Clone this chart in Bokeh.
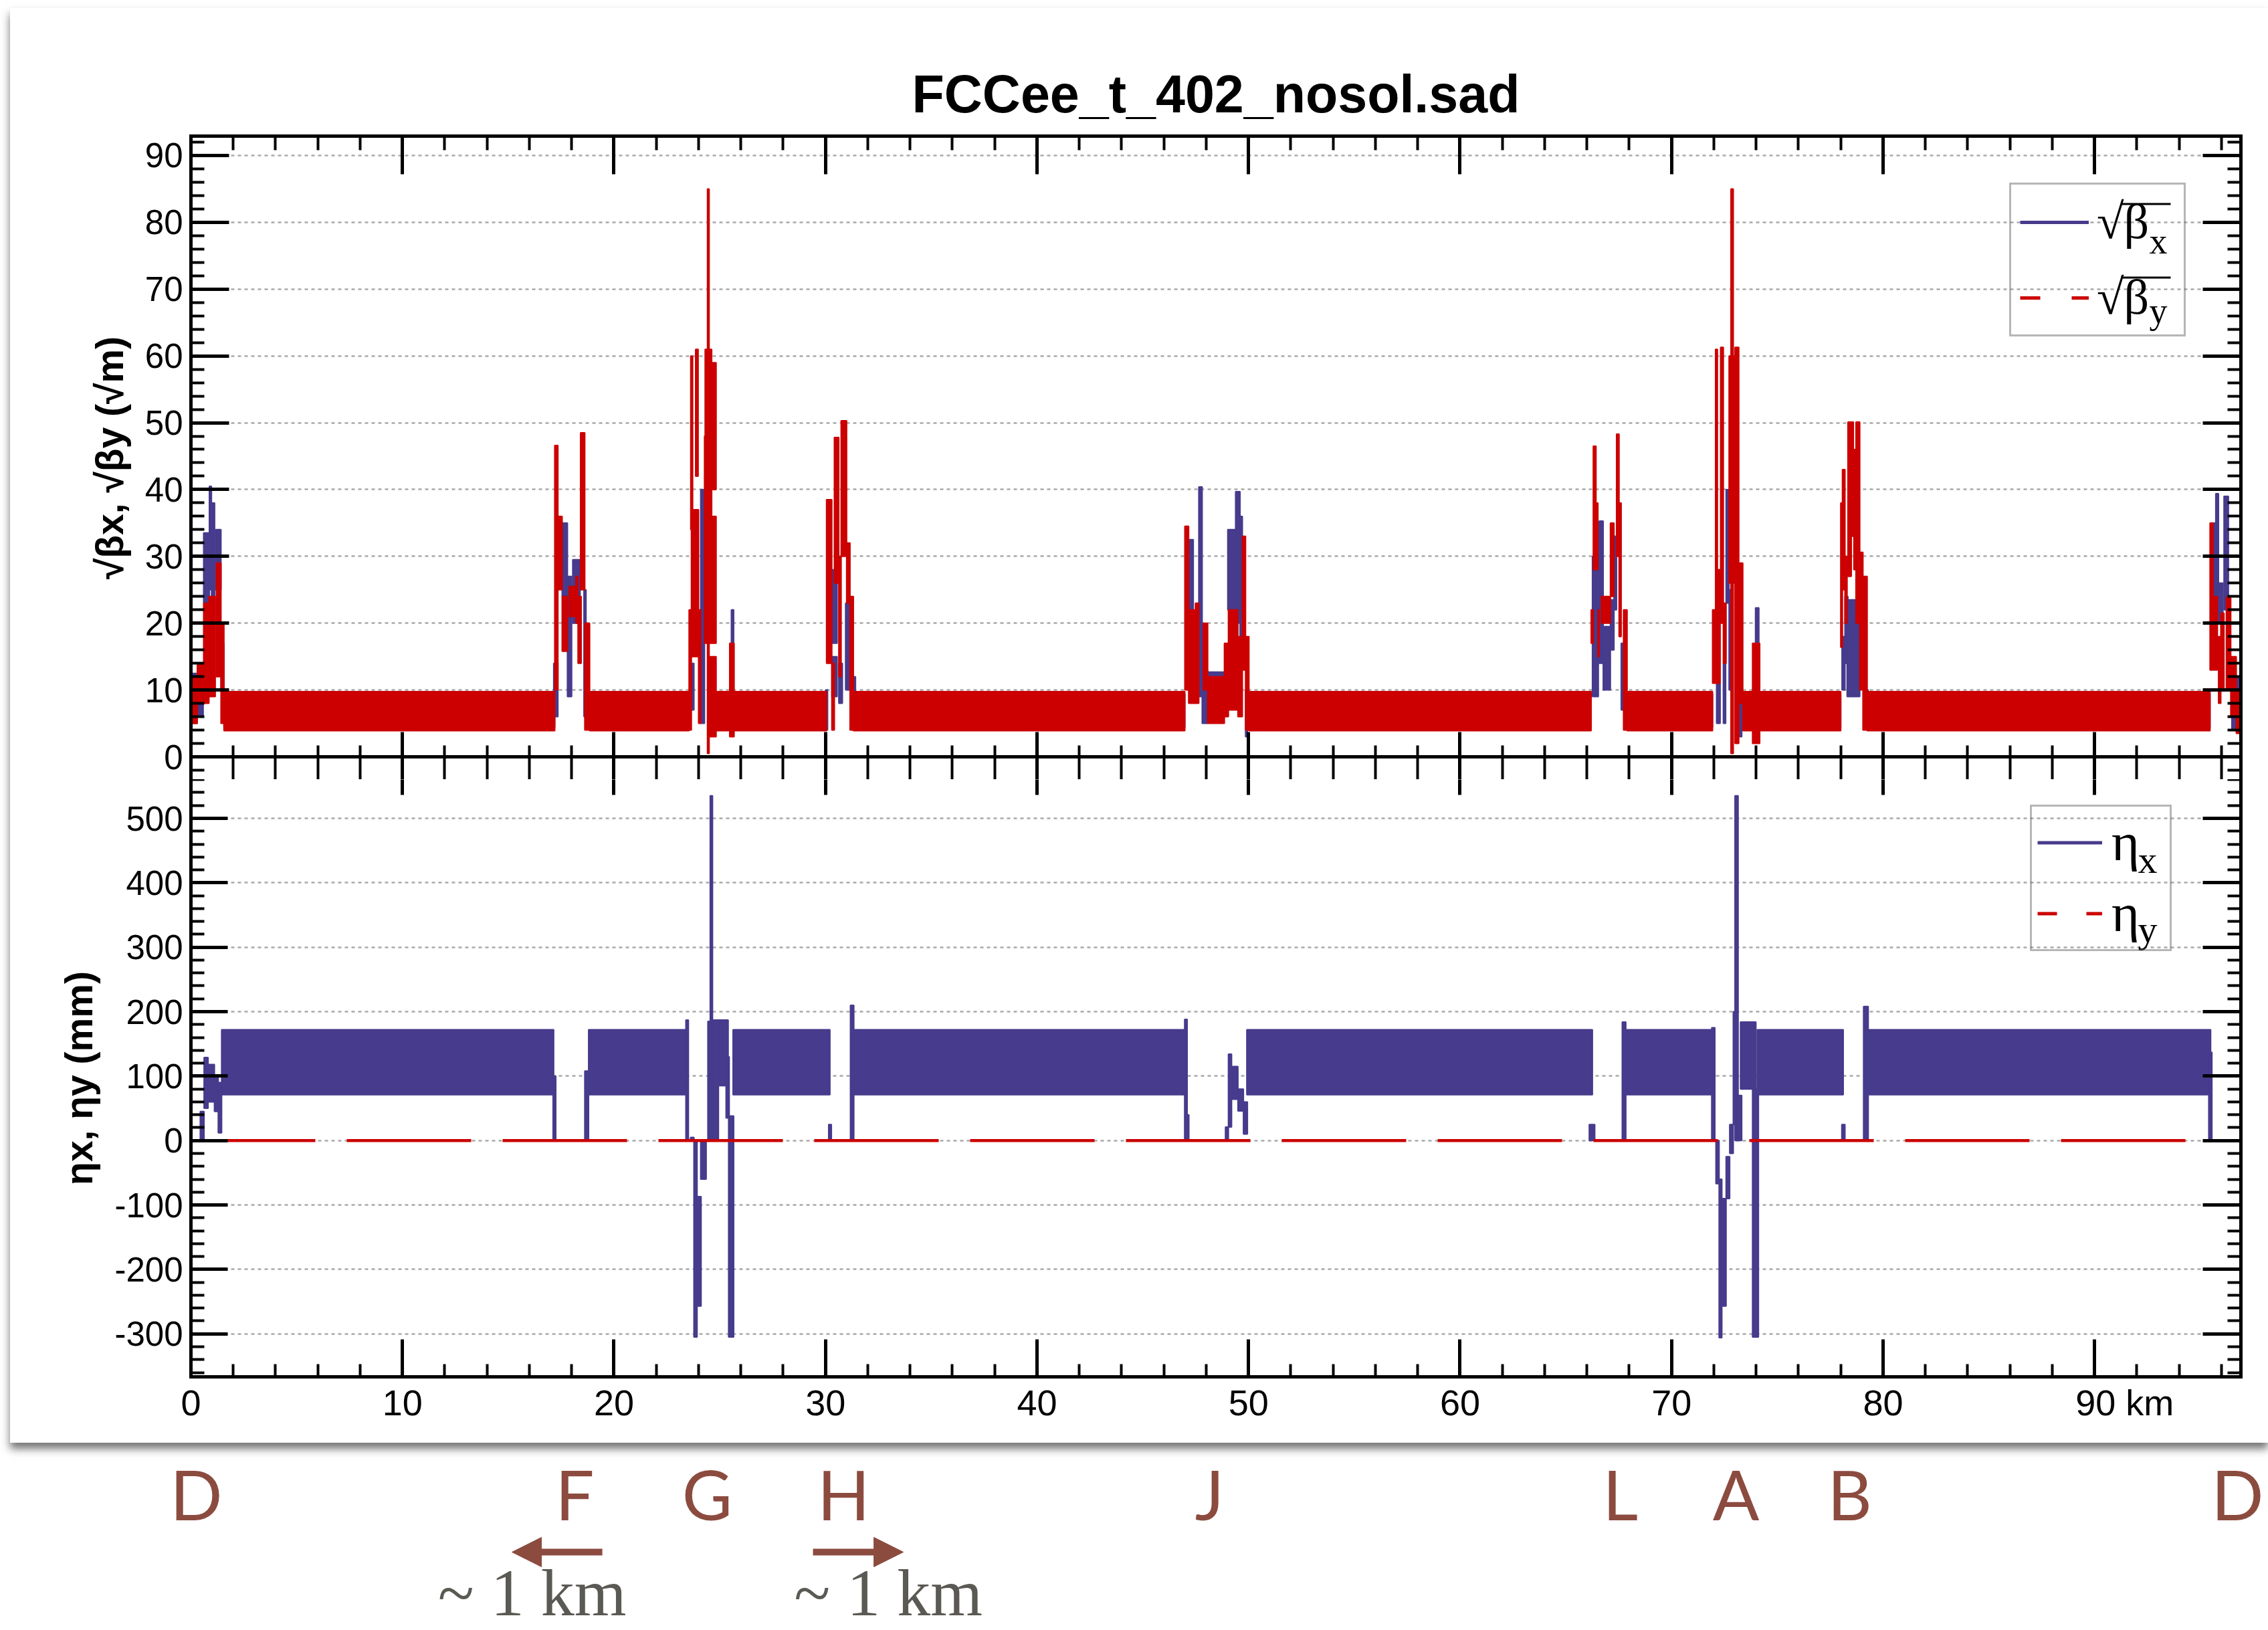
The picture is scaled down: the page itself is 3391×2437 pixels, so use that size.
import math
from bokeh.plotting import figure
from bokeh.models import (Range1d, LinearAxis, SingleIntervalTicker, Legend, LegendItem,
                          Label, BoxAnnotation, Arrow, NormalHead, Spacer, Span,
                          CustomJSTickFormatter)
from bokeh.layouts import column, row
from bokeh.embed import file_html
from bokeh.resources import INLINE
from bokeh.core.properties import value

# ---------------- data ----------------
S_MAX = 96.92          # ring length shown on the s axis [km]
UP_MAX = 92.9          # top of sqrt(beta) panel [sqrt(m)]
LO_MIN, LO_MAX = -366.7, 595.5   # eta panel range [mm]

# arc sections (dense FODO oscillation -> envelope band)
BETA_ARC_START = [1.56, 18.85, 24.83, 25.68, 31.32, 50.02, 67.90, 73.37, 74.17, 79.25]
BETA_ARC_END   = [17.20, 23.55, 25.47, 30.05, 46.99, 66.20, 71.94, 73.83, 78.00, 95.46]
BY_ARC_LO, BY_ARC_HI = 3.9, 9.75
BX_ARC_LO, BX_ARC_HI = 4.4, 9.4

ETA_ARC_START = [1.45, 18.80, 25.63, 31.32, 49.92, 67.79, 74.05, 79.25]
ETA_ARC_END   = [17.15, 23.46, 30.21, 47.07, 66.26, 71.96, 78.12, 95.49]
EX_ARC_LO, EX_ARC_HI = 71.0, 172.0

# insertion regions: (s_from, s_to, min, max) envelopes of sqrt(beta_x)
BX_S0 = [0.00, 0.30, 0.60, 0.87, 0.97, 1.17, 1.42,
         17.15, 17.55, 17.80, 18.05, 18.58,
         23.62, 24.10, 24.55, 25.55,
         30.00, 30.30, 30.30, 30.63, 30.95, 31.32,
         47.17, 47.65, 47.81, 48.07, 49.02, 49.39, 49.60, 49.86,
         66.26, 66.58, 66.77, 67.11, 67.28, 67.62,
         72.13, 72.45, 72.58, 72.72, 73.18, 73.97,
         78.06, 78.20, 78.30, 79.19,
         95.60, 95.73, 95.86, 96.12, 96.33, 96.49]
BX_S1 = [0.30, 0.58, 0.87, 0.97, 1.12, 1.42, 1.56,
         17.35, 17.80, 18.00, 18.40, 18.68,
         23.78, 24.28, 24.80, 25.66,
         30.10, 30.55, 30.55, 30.80, 31.16, 31.42,
         47.39, 47.81, 48.07, 48.86, 49.39, 49.60, 49.71, 49.95,
         66.54, 66.77, 67.11, 67.28, 67.40, 67.75,
         72.30, 72.56, 72.72, 72.81, 73.32, 74.13,
         78.20, 78.34, 78.90, 79.30,
         95.73, 95.86, 96.07, 96.33, 96.49, 96.92]
BX_LO = [5, 6, 23, 25, 24, 25, 10,
         6, 24, 9, 20, 6,
         7, 5, 6, 16,
         4, 17, 9, 8, 10, 8,
         22, 9, 5, 7, 22, 20, 18, 3,
         9, 14, 10, 16, 22, 7,
         5, 5, 23, 10, 3, 17,
         10, 14, 9, 6,
         16, 24, 20, 22, 10, 4]
BX_HI = [12.5, 11, 33.5, 40.5, 38, 34, 17,
         14, 35, 27, 29.5, 25,
         14, 40, 14, 22,
         10, 28, 15, 14, 23, 12,
         32.5, 40.4, 13, 12.7, 34, 39.7, 36, 10,
         30, 35.3, 19.5, 23.5, 33, 17,
         11, 14, 40, 25, 8, 22.3,
         18, 24, 23.5, 10,
         35, 39.4, 26, 39, 15, 12]

# insertion regions: envelopes of sqrt(beta_y)
BY_S0 = [0.00, 0.30, 0.60, 0.85, 1.20, 1.42,
         17.20, 17.35, 17.55, 17.88, 18.20, 18.30, 18.42, 18.62,
         23.55, 23.63, 23.66, 23.86, 24.00, 24.28, 24.31, 24.42, 24.52, 24.60, 24.52, 25.47,
         30.05, 30.30, 30.42, 30.63, 30.74, 31.00, 31.16,
         46.99, 47.17, 47.49, 47.86, 48.07, 48.86, 49.05, 49.50, 49.71, 49.86,
         66.20, 66.30, 66.43, 66.52, 66.68, 67.11, 67.40, 67.52, 67.73,
         71.94, 72.08, 72.08, 72.32, 72.45, 72.72, 72.81, 72.92, 73.00, 73.21, 73.83,
         78.00, 78.08, 78.20, 78.34, 78.50, 78.62, 78.72, 78.90, 79.05,
         95.46, 95.63, 95.86, 95.97, 96.23, 96.44, 96.70]
BY_S1 = [0.30, 0.60, 0.85, 1.15, 1.42, 1.56,
         17.35, 17.55, 17.80, 18.20, 18.30, 18.45, 18.62, 18.85,
         23.66, 23.72, 24.00, 23.98, 24.10, 24.40, 24.62, 24.50, 24.83, 24.83, 24.83, 25.68,
         30.30, 30.42, 30.63, 30.74, 31.00, 31.16, 31.32,
         47.17, 47.49, 47.65, 48.07, 48.86, 49.05, 49.50, 49.71, 49.86, 50.02,
         66.30, 66.43, 66.52, 66.58, 67.11, 67.28, 67.52, 67.62, 67.90,
         72.08, 72.17, 72.30, 72.45, 72.58, 72.81, 72.92, 73.00, 73.18, 73.37, 74.17,
         78.08, 78.20, 78.30, 78.50, 78.60, 78.72, 78.90, 79.05, 79.25,
         95.60, 95.81, 95.97, 96.12, 96.44, 96.70, 96.92]
BY_LO = [5, 8, 8, 9, 12, 5,
         10, 25, 15.8, 21, 20, 14, 25, 4,
         4, 34, 15, 42, 5, 17, 36, 0.5, 17, 40, 3, 3,
         14, 4, 26, 12, 30, 23, 4,
         10, 8, 8, 10, 5, 6, 7, 6, 13, 4,
         17, 28, 28, 15, 20, 24, 30, 18, 4,
         11, 28, 11, 20, 14, 26, 0.5, 26, 2, 8, 2,
         16.4, 25, 20, 27, 33, 28, 20, 10, 4,
         13, 13, 8, 10, 10, 6, 3.5]
BY_HI = [12, 14, 23, 24, 29, 20,
         46.6, 36, 24, 25.5, 27, 24, 48.5, 20,
         22, 60, 37, 61, 22, 48, 61, 85, 36, 59, 15, 17,
         38.5, 14, 47.8, 30, 50.3, 32, 24,
         34.5, 22, 23, 20, 12, 17, 22, 18, 33, 18,
         22, 46.5, 38, 22, 24, 35, 48.3, 38, 22,
         22, 61, 28, 61.3, 23, 60, 85, 60, 61.3, 29, 17,
         38, 43, 30, 50.1, 50.1, 46, 50.1, 30.6, 27,
         35, 24, 18, 21.5, 23.9, 15, 10]

# insertion regions: envelopes of eta_x [mm]
EX_S0 = [0.44, 0.62, 0.81, 1.11, 1.29,
         17.12, 18.62,
         23.40, 23.62, 23.78, 23.93, 24.10, 24.44, 24.55, 24.66, 24.94, 25.30, 25.42,
         30.15, 31.18,
         46.98, 47.05, 48.91, 49.05, 49.20, 49.50, 49.76,
         66.11, 67.67,
         71.90, 72.10, 72.25, 72.36, 72.58, 72.75, 72.92, 73.00, 73.15, 73.26, 73.83,
         78.05, 79.08,
         95.40]
EX_S1 = [0.62, 0.81, 1.11, 1.29, 1.45,
         17.25, 18.80,
         23.52, 23.78, 23.93, 24.12, 24.36, 24.57, 24.66, 24.94, 25.40, 25.45, 25.66,
         30.28, 31.34,
         47.10, 47.18, 49.05, 49.20, 49.50, 49.76, 49.95,
         66.37, 67.84,
         72.05, 72.25, 72.38, 72.58, 72.75, 72.92, 73.04, 73.15, 73.32, 73.99, 74.11,
         78.20, 79.30,
         95.55]
EX_LO = [0, 50, 60, 45, 12,
         0, 0,
         0, 0, -305, -257, -60, 0, 0, 0, 85, 35, -305,
         0, 0,
         0, 0, 0, 21, 64, 46, 10,
         0, 0,
         0, -67, -306, -257, -90, -20, 25, 0, 0, 80, -305,
         0, 0,
         0]
EX_HI = [45, 129, 118, 100, 90,
         100, 108,
         187, 5, 0, -87, 0, 185, 535, 187, 187, 130, 38,
         25, 210,
         188, 40, 21, 134, 115, 80, 60,
         25, 184,
         175, 0, -60, -90, -25, 25, 200, 535, 70, 184, 80,
         25, 208,
         137]

# eta_y is zero everywhere
EY_S = [0.0, S_MAX]
EY_V = [0.0, 0.0]

# region names along the ring
LETTERS = ["D", "F", "G", "H", "J", "L", "A", "B", "D"]
LETTER_S = [0.25, 18.15, 24.41, 30.86, 48.16, 67.58, 73.05, 78.42, 96.76]
ARROW_TAIL = [19.45, 29.41]
ARROW_TIP = [15.18, 33.68]
NOTE_S = [16.13, 32.97]
NOTE_TEXT = ["~ 1 km", "~ 1 km"]

# ---------------- styling / layout ----------------
BLUE = "#463b8c"
RED = "#cc0000"
BROWN = "#8c4b3f"
GREY_TXT = "#5b5953"
BEIGE = "#ebe7df"
SANS = "Liberation Sans"
SERIF = "Liberation Serif"

PAGE_W, PAGE_H = 3391, 2437
PANEL_X, PANEL_Y, PANEL_BOT = 15, 12, 2157
FRAME_L, FRAME_W = 285, 3065
UP_TOP, UP_BOT = 203, 1131      # sqrt(beta) panel: 92.9 .. 0
LO_TOP, LO_BOT = 1131, 2058     # eta panel: 595.5 .. -366.7
EXT = 34                        # the upper canvas reaches a little below its zero line
UP_PX = (UP_BOT - UP_TOP) / UP_MAX
LO_PX = (LO_BOT - LO_TOP) / (LO_MAX - LO_MIN)


def xd(px):
    return (px - FRAME_L) / (FRAME_W / S_MAX)


def up_y(py):
    return (UP_BOT - py) / UP_PX


def lo_y(py):
    return (LO_BOT - py) / LO_PX + LO_MIN


BLANK = CustomJSTickFormatter(code="return ''")


def style_axis(ax, labels, maj_in, min_in, line=True, size="51px", standoff=12):
    ax.major_tick_in = maj_in
    ax.major_tick_out = 0
    ax.minor_tick_in = min_in
    ax.minor_tick_out = 0
    ax.major_tick_line_width = 5
    ax.minor_tick_line_width = 4
    ax.major_tick_line_color = "black"
    ax.minor_tick_line_color = "black" if min_in > 0 else None
    if line:
        ax.axis_line_color = "black"
        ax.axis_line_width = 5
        ax.axis_line_cap = "square"
    else:
        ax.axis_line_color = None
    if labels:
        ax.major_label_text_font = SANS
        ax.major_label_text_font_size = size
        ax.major_label_text_color = "black"
        ax.major_label_standoff = standoff
    else:
        ax.formatter = BLANK
        ax.major_label_text_font_size = "1px"
        ax.major_label_standoff = 0


def style_fig(p):
    p.background_fill_color = "white"
    p.border_fill_color = "white"
    p.outline_line_color = None
    for g in p.xgrid:
        g.visible = False
    for g in p.ygrid:
        g.grid_line_color = "#a9a9a9"
        g.grid_line_dash = "5 5"
        g.grid_line_width = 2.5


def style_ylabel(ax, text):
    ax.axis_label = text
    ax.axis_label_text_font = SANS
    ax.axis_label_text_font_style = "bold"
    ax.axis_label_text_font_size = "57px"
    ax.axis_label_text_color = "black"
    ax.axis_label_standoff = 18


def subscript(p, text, px, y, size):
    p.add_layout(Label(x=xd(px), y=y, text=text, text_font=SERIF, text_font_size=size,
                       text_baseline="middle", text_align="left", text_color="black"))


NAN = float("nan")
up_w = PAGE_W - PANEL_X
b_left = FRAME_L - PANEL_X
b_right = up_w - b_left - FRAME_W

# ---------------- top panel: sqrt(beta) ----------------
fig_up = figure(width=up_w, height=UP_BOT + EXT - PANEL_Y, x_range=Range1d(0, S_MAX),
                y_range=Range1d(-EXT / UP_PX, UP_MAX), x_axis_location=None,
                y_axis_location="left", output_backend="svg", toolbar_location=None,
                min_border_left=b_left, min_border_right=b_right,
                min_border_top=UP_TOP - PANEL_Y, min_border_bottom=0)
style_fig(fig_up)
fig_up.title.text = "FCCee_t_402_nosol.sad"
fig_up.title.align = "center"
fig_up.title.text_font = SANS
fig_up.title.text_font_style = "bold"
fig_up.title.text_font_size = "79px"
fig_up.title.text_color = "black"
fig_up.title.standoff = 38

yt_up = SingleIntervalTicker(interval=10, num_minor_ticks=5)
xt = SingleIntervalTicker(interval=10, num_minor_ticks=5)
fig_up.yaxis[0].ticker = yt_up
style_axis(fig_up.yaxis[0], True, 57, 20)
style_ylabel(fig_up.yaxis[0], "√βx, √βy (√m)")
ax = LinearAxis(ticker=yt_up); style_axis(ax, False, 57, 20); fig_up.add_layout(ax, "right")
ax = LinearAxis(ticker=xt); style_axis(ax, False, 57, 21); fig_up.add_layout(ax, "above")
ax = LinearAxis(ticker=xt); style_axis(ax, False, 37 + EXT, 17 + EXT, line=False)
fig_up.add_layout(ax, "below")
for g in fig_up.ygrid:
    g.ticker = yt_up

nb = len(BETA_ARC_START)
fig_up.quad(left=BETA_ARC_START, right=BETA_ARC_END, bottom=[BX_ARC_LO] * nb, top=[BX_ARC_HI] * nb,
            fill_color=BLUE, line_color=BLUE, line_width=2)
fig_up.quad(left=BX_S0, right=BX_S1, bottom=BX_LO, top=BX_HI,
            fill_color=BLUE, line_color=BLUE, line_width=2)
fig_up.quad(left=BETA_ARC_START, right=BETA_ARC_END, bottom=[BY_ARC_LO] * nb, top=[BY_ARC_HI] * nb,
            fill_color=RED, line_color=RED, line_width=2)
fig_up.quad(left=BY_S0, right=BY_S1, bottom=BY_LO, top=BY_HI,
            fill_color=RED, line_color=RED, line_width=2)
# frame line shared by both panels
fig_up.add_layout(Span(location=0, dimension="width", line_color="black", line_width=5))

r_bx = fig_up.line(x=[NAN], y=[NAN], line_color=BLUE, line_width=5)
r_by = fig_up.line(x=[NAN], y=[NAN], line_color=RED, line_width=5, line_dash="30 47")
leg_up = Legend(items=[LegendItem(label="√β", renderers=[r_bx]),
                       LegendItem(label="√β", renderers=[r_by])],
                location=(3004 - FRAME_L, UP_BOT + EXT - 503), margin=0, padding=13, spacing=28,
                glyph_width=103, glyph_height=82, label_height=82, label_width=117,
                label_standoff=12, border_line_color="#6e6e6e", border_line_width=3,
                background_fill_alpha=0.0,
                label_text_font=SERIF, label_text_font_size="74px", label_text_color="black")
fig_up.add_layout(leg_up)
subscript(fig_up, "x", 3213, up_y(360), "54px")
subscript(fig_up, "y", 3213, up_y(464), "54px")
for top_py in (303, 413):
    fig_up.add_layout(BoxAnnotation(left=xd(3171), right=xd(3245), top=up_y(top_py),
                                    bottom=up_y(top_py + 3), fill_color="black", fill_alpha=1,
                                    line_color=None))

# ---------------- lower panel: dispersion ----------------
fig_lo = figure(width=up_w, height=PANEL_BOT - LO_TOP - EXT, x_range=fig_up.x_range,
                y_range=Range1d(LO_MIN, LO_MAX - EXT / LO_PX), x_axis_location="below",
                y_axis_location="left", output_backend="svg", toolbar_location=None,
                min_border_left=b_left, min_border_right=b_right,
                min_border_top=0, min_border_bottom=PANEL_BOT - LO_BOT)
style_fig(fig_lo)
yt_lo = SingleIntervalTicker(interval=100, num_minor_ticks=5)
fig_lo.yaxis[0].ticker = yt_lo
style_axis(fig_lo.yaxis[0], True, 55, 20)
fig_lo.yaxis[0].major_label_overrides = {-100: "-100", -200: "-200", -300: "-300"}
style_ylabel(fig_lo.yaxis[0], "ηx, ηy (mm)")
fig_lo.xaxis[0].ticker = xt
style_axis(fig_lo.xaxis[0], True, 56, 19, size="54px", standoff=8)
fig_lo.xaxis[0].major_label_overrides = {90: "\u2007\u2007\u200790 km"}
ax = LinearAxis(ticker=yt_lo); style_axis(ax, False, 57, 20); fig_lo.add_layout(ax, "right")
ax = LinearAxis(ticker=xt); style_axis(ax, False, 57 - EXT, 0, line=False)
fig_lo.add_layout(ax, "above")
for g in fig_lo.ygrid:
    g.ticker = yt_lo

ne = len(ETA_ARC_START)
fig_lo.quad(left=ETA_ARC_START, right=ETA_ARC_END, bottom=[EX_ARC_LO] * ne, top=[EX_ARC_HI] * ne,
            fill_color=BLUE, line_color=BLUE, line_width=2)
fig_lo.quad(left=EX_S0, right=EX_S1, bottom=EX_LO, top=EX_HI,
            fill_color=BLUE, line_color=BLUE, line_width=2)
fig_lo.line(x=EY_S, y=EY_V, line_color=RED, line_width=4.5, line_dash="186 47")

r_ex = fig_lo.line(x=[NAN], y=[NAN], line_color=BLUE, line_width=5)
r_ey = fig_lo.line(x=[NAN], y=[NAN], line_color=RED, line_width=5, line_dash="29 44")
leg_lo = Legend(items=[LegendItem(label="η", renderers=[r_ex]),
                       LegendItem(label="η", renderers=[r_ey])],
                location=(3035 - FRAME_L, LO_BOT - 1422), margin=0, padding=8, spacing=15,
                glyph_width=97, glyph_height=89, label_height=89, label_width=79,
                label_standoff=14, border_line_color="#6e6e6e", border_line_width=3,
                background_fill_alpha=0.0,
                label_text_font=SERIF, label_text_font_size="80px", label_text_color="black")
fig_lo.add_layout(leg_lo)
subscript(fig_lo, "x", 3196, lo_y(1285), "58px")
subscript(fig_lo, "y", 3196, lo_y(1389), "58px")

# ---------------- annotations under the plot ----------------
nt_h = PAGE_H - PANEL_BOT
fig_nt = figure(width=PAGE_W, height=nt_h, x_range=Range1d(xd(0), xd(PAGE_W)),
                y_range=Range1d(nt_h, 0), x_axis_location=None, y_axis_location=None,
                output_backend="svg", toolbar_location=None,
                min_border_left=0, min_border_right=0, min_border_top=0, min_border_bottom=0)
fig_nt.outline_line_color = None
fig_nt.background_fill_alpha = 0
fig_nt.border_fill_alpha = 0
for g in list(fig_nt.xgrid) + list(fig_nt.ygrid):
    g.visible = False
fig_nt.text(x=LETTER_S, y=75, text=LETTERS, text_font=value("Lato"), text_font_size="103px",
            text_color=BROWN, text_align="center", text_baseline="middle")
for a, b in zip(ARROW_TAIL, ARROW_TIP):
    fig_nt.add_layout(Arrow(end=NormalHead(size=44, fill_color=BROWN, line_color=BROWN),
                            x_start=a, x_end=b, y_start=163, y_end=163,
                            line_color=BROWN, line_width=10))
fig_nt.text(x=NOTE_S, y=224, text=NOTE_TEXT, text_font=value(SERIF),
            text_font_size="100px", text_color=GREY_TXT, text_align="center",
            text_baseline="middle")

panel = column(fig_up, fig_lo, spacing=0,
               styles={"box-shadow": "0px 9px 12px 0px rgba(40,40,40,0.65)",
                       "background-color": "white"})
root = column(Spacer(width=PAGE_W, height=PANEL_Y),
              row(Spacer(width=PANEL_X, height=PANEL_BOT - PANEL_Y), panel, spacing=0),
              fig_nt, spacing=0)

html = file_html(root, INLINE, title="FCCee_t_402_nosol.sad")
html = html.replace("<body", f'<body style="background-color:{BEIGE};"', 1)
open("out.html", "w").write(html)
